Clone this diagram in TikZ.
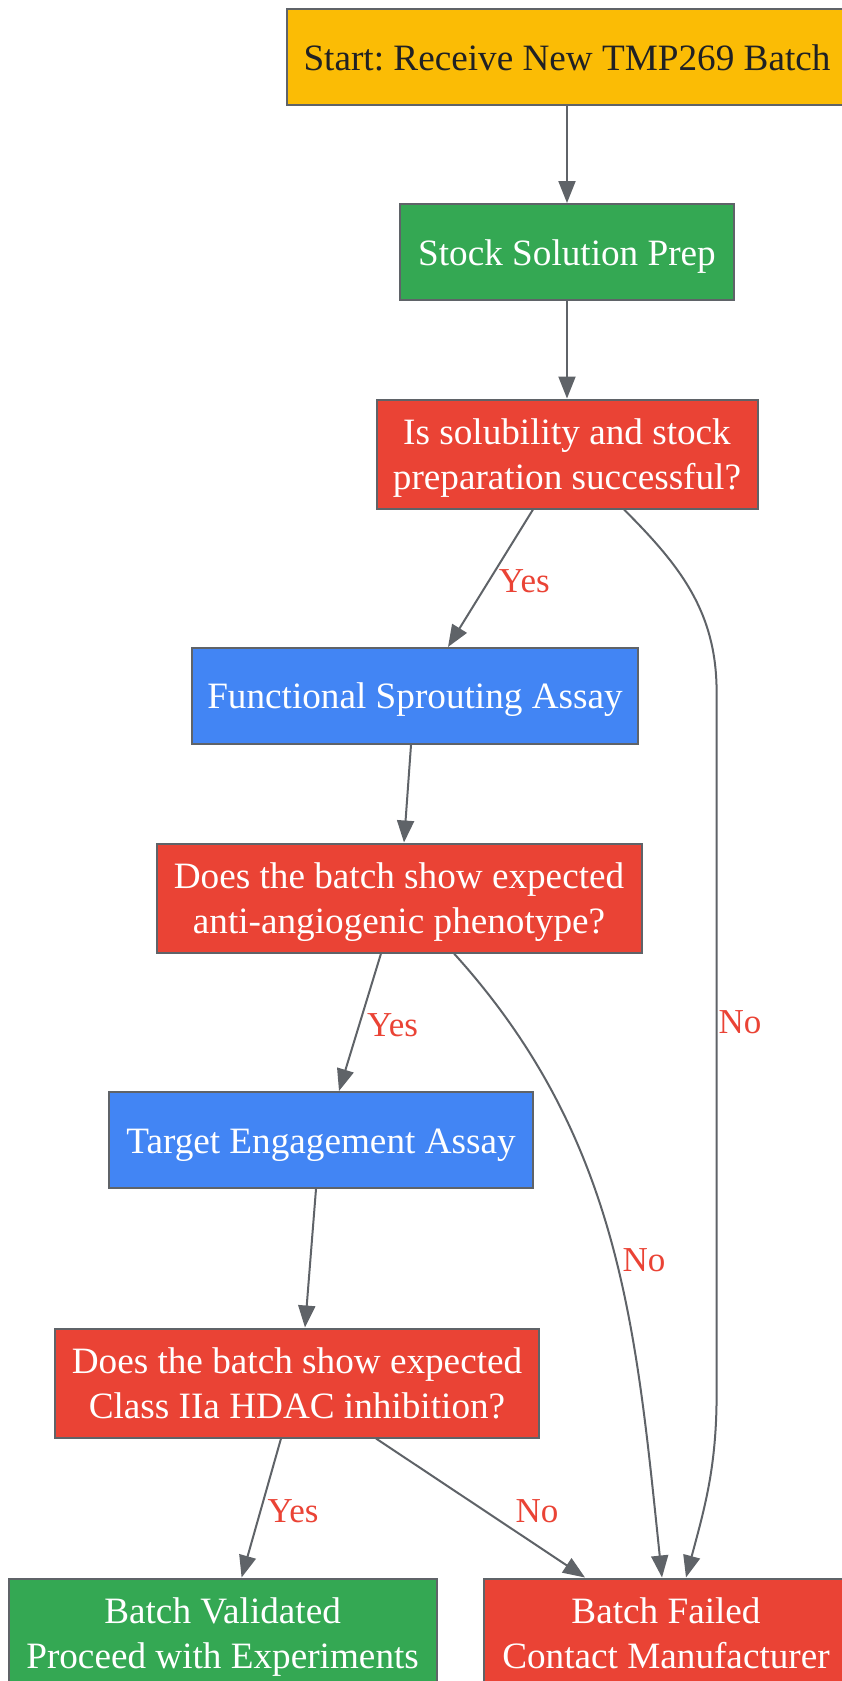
\documentclass[tikz,border=0pt]{standalone}
\usepackage{fontspec}
\setmainfont{Liberation Serif}
\usetikzlibrary{arrows.meta}
\definecolor{gyellow}{HTML}{FBBC05}
\definecolor{ggreen}{HTML}{34A853}
\definecolor{gred}{HTML}{EA4335}
\definecolor{gblue}{HTML}{4285F4}
\definecolor{ggray}{HTML}{5F6368}
\definecolor{gdark}{HTML}{202124}
\newcommand\boxstrut{\rule[-8pt]{0pt}{42pt}}
\frenchspacing
\begin{document}
\begin{tikzpicture}[x=1pt,y=1pt]
  \tikzstyle{every node}+=[inner sep=0pt]
  \tikzstyle{box}=[draw=ggray, line width=2pt, text=white, align=center, font=\fontsize{37.2}{44.5}\selectfont]
  \tikzstyle{edge}=[draw=ggray, line width=2pt, -{Triangle[length=22pt,width=17pt]}]
  \tikzstyle{lbl}=[text=gred, font=\fontsize{35}{40}\selectfont]
  \useasboundingbox (0,0) rectangle (841,-1681);
  \node [box, fill=gyellow, text=gdark, minimum width=560pt, minimum height=96pt] (start) at (567,-57) {\boxstrut Start: Receive New TMP269 Batch};
  \node [box, fill=ggreen, minimum width=334pt, minimum height=96pt] (stock) at (567,-252) {\boxstrut Stock Solution Prep};
  \node [box, fill=gred, minimum width=381pt, minimum height=109pt] (d1) at (567,-454) {\boxstrut Is solubility and stock\\\boxstrut preparation successful?};
  \node [box, fill=gblue, minimum width=446pt, minimum height=96pt] (func) at (415,-696) {\boxstrut Functional Sprouting Assay};
  \node [box, fill=gred, minimum width=485pt, minimum height=109pt] (d2) at (399,-898) {\boxstrut Does the batch show expected\\\boxstrut anti-angiogenic phenotype?};
  \node [box, fill=gblue, minimum width=424pt, minimum height=96pt] (target) at (321,-1140) {\boxstrut Target Engagement Assay};
  \node [box, fill=gred, minimum width=484pt, minimum height=109pt] (d3) at (297,-1383) {\boxstrut Does the batch show expected\\\boxstrut Class IIa HDAC inhibition?};
  \node [box, fill=ggreen, minimum width=428pt, minimum height=109pt] (valid) at (222.6,-1633) {\boxstrut Batch Validated\\\boxstrut Proceed with Experiments};
  \node [box, fill=gred, minimum width=364pt, minimum height=109pt] (failed) at (666,-1633) {\boxstrut Batch Failed\\\boxstrut Contact Manufacturer};
  \draw [edge] (start) -- (stock);
  \draw [edge] (stock) -- (d1);
  \draw [edge] ([xshift=-34pt]d1.south) -- node [lbl, pos=0.52, right=9pt] {Yes} ([xshift=33pt]func.north);
  \draw [edge] ([xshift=57pt]d1.south) to[out=-45,in=90] (716.6,-692) -- node [lbl, pos=0.47, right=1pt] {No} (716.6,-1394) to[out=-90,in=75] ([xshift=20pt]failed.north);
  \draw [edge] ([xshift=-4pt]func.south) -- ([xshift=5pt]d2.north);
  \draw [edge] ([xshift=-18pt]d2.south) -- node [lbl, pos=0.52, right=7pt] {Yes} ([xshift=18pt]target.north);
  \draw [edge] ([xshift=55pt]d2.south) .. controls (621,-1138) and (636,-1329) .. node [lbl, pos=0.53, right=6pt] {No} ([xshift=-4pt]failed.north);
  \draw [edge] ([xshift=-5pt]target.south) -- ([xshift=8pt]d3.north);
  \draw [edge] ([xshift=-16pt]d3.south) -- node [lbl, pos=0.52, right=6pt] {Yes} ([xshift=19pt]valid.north);
  \draw [edge] ([xshift=79pt]d3.south) -- node [lbl, pos=0.52, right=30pt] {No} ([xshift=-81pt]failed.north);
\end{tikzpicture}
\end{document}
